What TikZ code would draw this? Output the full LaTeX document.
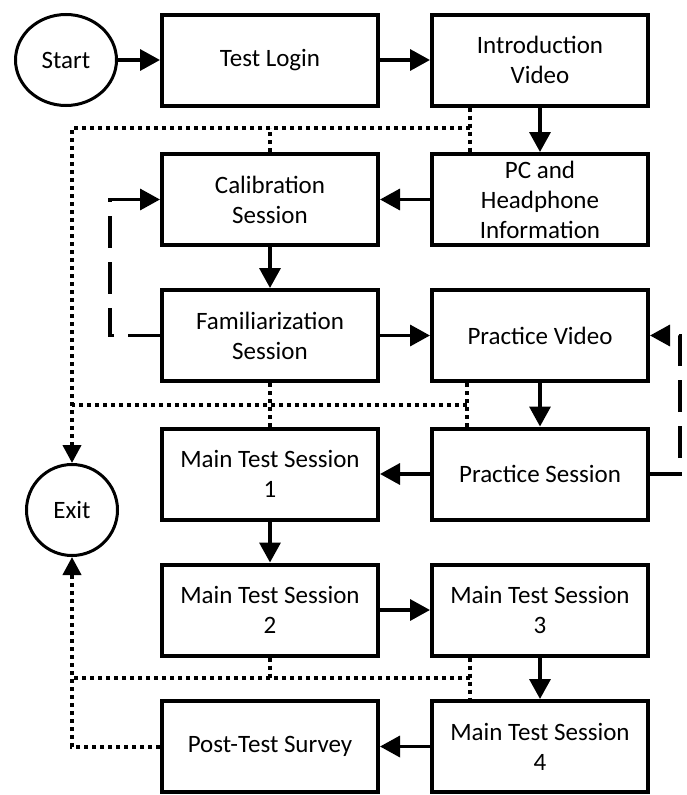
\documentclass[tikz,border=0pt]{standalone}
\usepackage{fontspec}
\setmainfont{Carlito}
\usetikzlibrary{arrows.meta,shapes.geometric}
\tikzset{
  stepbox/.style={draw, line width=4pt, minimum width=216pt, minimum height=91pt,
    align=center, inner sep=0pt, font=\fontsize{25}{30}\selectfont},
  terminal/.style={draw, ellipse, line width=3pt, minimum width=101pt, minimum height=91pt,
    inner sep=0pt, font=\fontsize{25}{30}\selectfont},
  flow/.style={line width=3.5pt, -{Triangle[length=20pt,width=21pt]}},
  quitline/.style={line width=4pt, dash pattern=on 4pt off 4pt},
  quitarrow/.style={quitline, -{Triangle[length=18pt,width=18pt]}},
  retry/.style={line width=3.5pt, dash pattern=on 32pt off 14pt, -{Triangle[length=20pt,width=21pt]}}
}
\begin{document}
\begin{tikzpicture}[x=1pt,y=-1pt]
\useasboundingbox (0,0) rectangle (686,795);

% terminals
\node[terminal] (start) at (66,60) {Start};
\node[terminal, minimum width=91pt] (exit) at (72,510) {Exit};

% steps
\node[stepbox] (login)  at (270,60)    {Test Login};
\node[stepbox] (intro)  at (540,60)    {Introduction\\Video};
\node[stepbox] (pc)     at (540,199.5) {PC and\\Headphone\\Information};
\node[stepbox] (calib)  at (270,199.5) {Calibration\\Session};
\node[stepbox] (famil)  at (270,335.5) {Familiarization\\Session};
\node[stepbox] (pvideo) at (540,335.5) {Practice Video};
\node[stepbox] (psess)  at (540,474)   {Practice Session};
\node[stepbox] (main1)  at (270,474)   {Main Test Session\\1};
\node[stepbox] (main2)  at (270,610)   {Main Test Session\\2};
\node[stepbox] (main3)  at (540,610)   {Main Test Session\\3};
\node[stepbox] (main4)  at (540,746.5) {Main Test Session\\4};
\node[stepbox] (post)   at (270,746.5) {Post-Test Survey};

% junctions of the exit lines
\coordinate (j1) at (470,128);
\coordinate (l1) at (72,128);
\coordinate (j2) at (467,405);
\coordinate (l2) at (72,405);
\coordinate (j3) at (470,678);
\coordinate (l3) at (72,678);
\coordinate (l4) at (72,746.5);

% exit lines
\draw[quitline] (intro.south -| j1) -- (pc.north -| j1);
\draw[quitline] (calib.north) -- (calib.north |- j1);
\draw[quitarrow] (j1) -- (l1) -- (exit.north);
\draw[quitline] (pvideo.south -| j2) -- (psess.north -| j2);
\draw[quitline] (famil.south) -- (main1.north);
\draw[quitline] (j2) -- (l2);
\draw[quitline] (main3.south -| j3) -- (main4.north -| j3);
\draw[quitline] (main2.south) -- (main2.south |- j3);
\draw[quitline] (j3) -- (l3);
\draw[quitarrow] (post.west) -- (l4) -- (exit.south);

% main flow
\draw[flow] (start) -- (login);
\draw[flow] (login) -- (intro);
\draw[flow] (intro) -- (pc);
\draw[flow] (pc) -- (calib);
\draw[flow] (calib) -- (famil);
\draw[flow] (famil) -- (pvideo);
\draw[flow] (pvideo) -- (psess);
\draw[flow] (psess) -- (main1);
\draw[flow] (main1) -- (main2);
\draw[flow] (main2) -- (main3);
\draw[flow] (main3) -- (main4);
\draw[flow] (main4) -- (post);

% repeat loops
\coordinate (r1) at (110,335.5);
\coordinate (r2) at (110,199.5);
\draw[retry] (famil.west) -- (r1) -- (r2) -- (calib.west);
\coordinate (r3) at (680,474);
\coordinate (r4) at (680,335.5);
\draw[retry] (psess.east) -- (r3) -- (r4) -- (pvideo.east);
\end{tikzpicture}
\end{document}
